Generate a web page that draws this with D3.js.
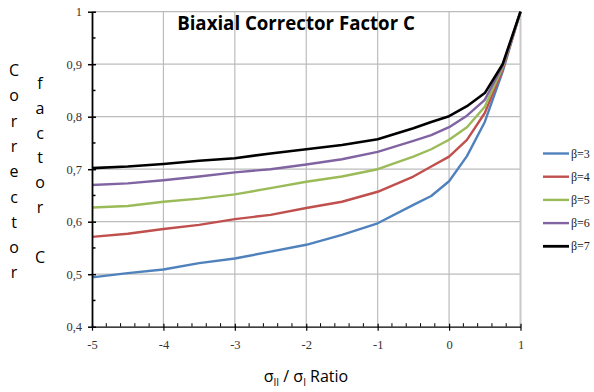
<!DOCTYPE html>
<html><head><meta charset="utf-8">
<script src="https://cdn.jsdelivr.net/npm/d3@7"></script>
<style>body{margin:0;background:#fff}svg{display:block}</style>
</head><body>
<svg id="c" width="594" height="392"></svg>
<script>
const xValues = [-5,-4.5,-4,-3.5,-3,-2.5,-2,-1.5,-1,-0.5,-0.25,0,0.25,0.5,0.75,1];
const beta3 = [0.494,0.502,0.509,0.521,0.530,0.543,0.556,0.575,0.597,0.632,0.649,0.677,0.725,0.790,0.886,1];
const beta4 = [0.571,0.577,0.586,0.594,0.605,0.613,0.626,0.638,0.657,0.686,0.705,0.724,0.756,0.807,0.890,1];
const beta5 = [0.627,0.630,0.638,0.644,0.652,0.664,0.676,0.686,0.700,0.724,0.738,0.756,0.780,0.819,0.894,1];
const beta6 = [0.670,0.673,0.679,0.686,0.694,0.700,0.709,0.719,0.733,0.754,0.765,0.780,0.802,0.832,0.897,1];
const beta7 = [0.702,0.705,0.710,0.716,0.721,0.730,0.738,0.746,0.757,0.778,0.790,0.801,0.820,0.845,0.900,1];
const seriesNames = ["β=3","β=4","β=5","β=6","β=7"];
const seriesColors = ["#4F81BD","#C0504D","#9BBB59","#8064A2","#000000"];
const xTicks = [-5,-4,-3,-2,-1,0,1];
const yTicks = [0.4,0.5,0.6,0.7,0.8,0.9,1];
const titleText = "Biaxial Corrector Factor C";

const series = [beta3,beta4,beta5,beta6,beta7].map((v,i)=>({name:seriesNames[i],color:seriesColors[i],values:v}));

const svg = d3.select("#c");
const x = d3.scaleLinear().domain([-5,1]).range([92,520.5]);
const y = d3.scaleLinear().domain([0.4,1]).range([326.7,11.7]);
const serif = "'Liberation Serif','DejaVu Serif',serif";
const sans = "'Open Sans','Noto Sans',sans-serif";

// gridlines
svg.append("g").selectAll("line").data(yTicks.filter(t=>t>0.4)).join("line")
  .attr("x1",x(-5)).attr("x2",x(1)).attr("y1",d=>y(d)).attr("y2",d=>y(d))
  .attr("stroke","#bcbcbc").attr("stroke-width",1.2);
svg.append("g").selectAll("line").data(xTicks.filter(t=>t>-5)).join("line")
  .attr("x1",d=>x(d)).attr("x2",d=>x(d)).attr("y1",y(0.4)).attr("y2",y(1))
  .attr("stroke",d=>d===1?"#c8c8c8":"#bcbcbc").attr("stroke-width",d=>d===1?2:1.2);

// series
const line = d3.line().x((d,i)=>x(xValues[i])).y(d=>y(d));
svg.append("g").selectAll("path").data(series).join("path")
  .attr("d",d=>line(d.values)).attr("fill","none")
  .attr("stroke",d=>d.color).attr("stroke-width",d=>d.color==="#000000"?2.6:2.4)
  .attr("stroke-linejoin","round");

// axes
const fmt = v => (Math.round(v*10)/10).toString().replace(".",",");
const yAxis = svg.append("g").attr("transform",`translate(${x(-5)},0)`)
  .call(d3.axisLeft(y).tickValues(yTicks).tickFormat(fmt).tickSizeInner(4).tickSizeOuter(0).tickPadding(6));
yAxis.attr("font-family",serif);
yAxis.select(".domain").attr("stroke","#000").attr("stroke-width",1.8);
yAxis.selectAll(".tick line").attr("x2",4).attr("x1",-4).attr("stroke-width",1.5);
yAxis.selectAll("text").attr("font-family",serif).attr("font-size",12.5).attr("fill","#333");
// y minor ticks
svg.append("g").selectAll("line").data(d3.range(0.45,1,0.1)).join("line")
  .attr("x1",x(-5)).attr("x2",x(-5)+3.5).attr("y1",d=>y(d)).attr("y2",d=>y(d))
  .attr("stroke","#000").attr("stroke-width",1.5);

const xAxis = svg.append("g").attr("transform",`translate(0,${y(0.4)})`)
  .call(d3.axisBottom(x).tickValues(xTicks).tickFormat(d=>d).tickSizeInner(4).tickSizeOuter(0).tickPadding(9));
xAxis.attr("font-family",serif);
xAxis.select(".domain").attr("stroke","#000").attr("stroke-width",1.3);
xAxis.selectAll(".tick line").attr("y1",-3).attr("y2",4).attr("stroke-width",1.2);
xAxis.selectAll("text").attr("font-family",serif).attr("font-size",12.5).attr("fill","#333");
// x minor ticks
const xMinor = d3.range(0,30).map(i=>-5+i*0.2).filter(v=>Math.abs(v-Math.round(v))>0.01);
svg.append("g").selectAll("line").data(xMinor).join("line")
  .attr("x1",d=>x(d)).attr("x2",d=>x(d)).attr("y1",y(0.4)).attr("y2",y(0.4)-3.5)
  .attr("stroke","#000").attr("stroke-width",1);

// title
const title = svg.append("text").attr("x",296).attr("y",30).attr("text-anchor","middle")
  .attr("font-family",sans).attr("font-weight","bold").attr("font-size",18).attr("fill","#000").text(titleText);
const tw = title.node().getComputedTextLength();
title.attr("font-size",18*238/tw);

// y axis label (stacked letters)
const col1 = "Corrector".split("");
svg.append("g").selectAll("text").data(col1).join("text")
  .attr("x",14).attr("y",(d,i)=>76+i*25.3).attr("text-anchor","middle")
  .attr("font-family",sans).attr("font-size",16).attr("fill","#000").text(d=>d);
const col2 = ["f","a","c","t","o","r","","C"];
svg.append("g").selectAll("text").data(col2).join("text")
  .attr("x",40).attr("y",(d,i)=>89+i*24.8).attr("text-anchor","middle")
  .attr("font-family",sans).attr("font-size",16).attr("fill","#000").text(d=>d);

// x axis title
const xt = svg.append("text").attr("x",306).attr("y",382).attr("text-anchor","middle")
  .attr("font-family",sans).attr("font-size",16).attr("fill","#000");
xt.append("tspan").text("σ");
xt.append("tspan").attr("font-size",10).attr("dy",4).text("II");
xt.append("tspan").attr("dy",-4).text(" / σ");
xt.append("tspan").attr("font-size",10).attr("dy",4).text("I");
xt.append("tspan").attr("dy",-4).text(" Ratio");

// legend
const lg = svg.append("g").selectAll("g").data(series).join("g")
  .attr("transform",(d,i)=>`translate(543,${153.5+i*23.2})`);
lg.append("line").attr("x1",0).attr("x2",26).attr("stroke",d=>d.color).attr("stroke-width",d=>d.color==="#000000"?2.8:2.4);
lg.append("text").attr("x",28).attr("y",4).attr("font-family",serif).attr("font-size",12).attr("fill","#222").text(d=>d.name);
</script>
</body></html>
